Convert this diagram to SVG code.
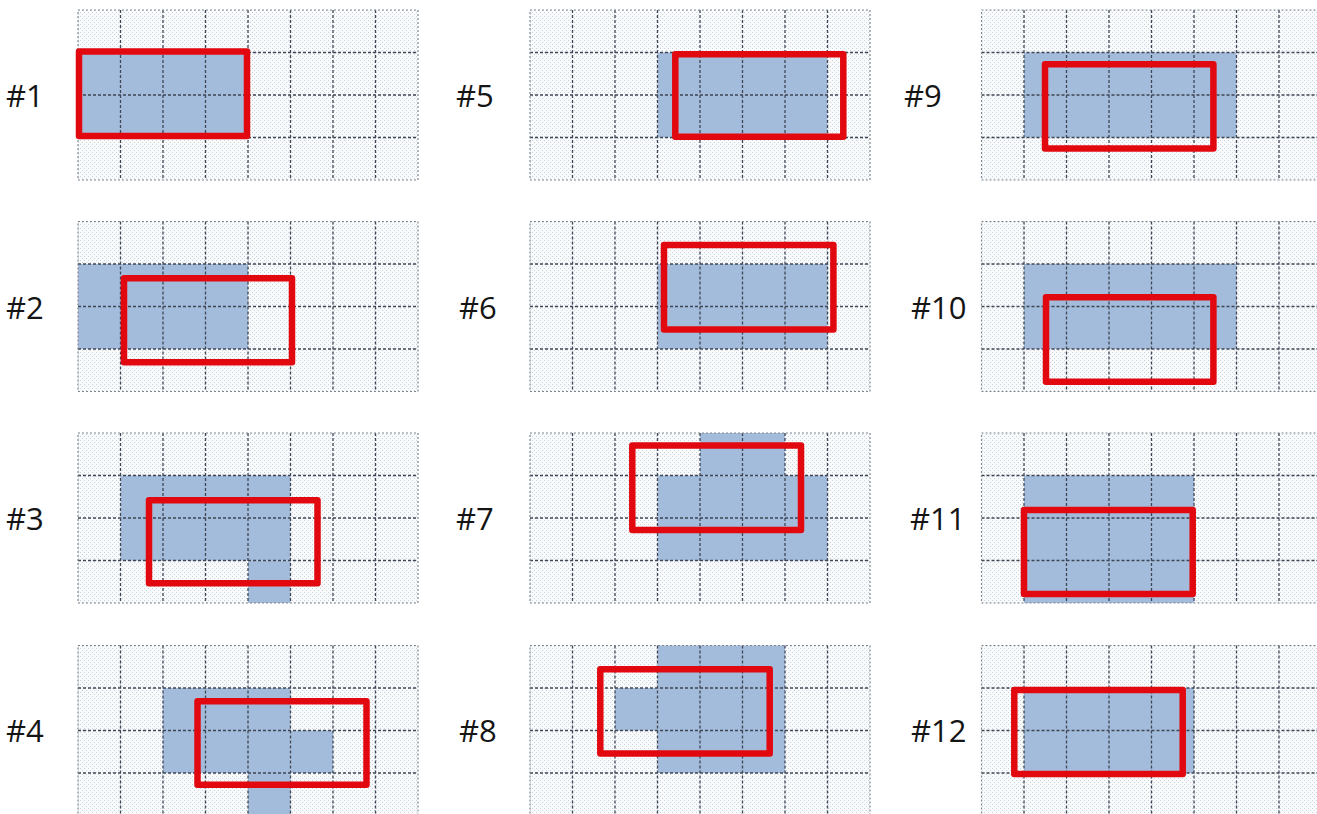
<svg xmlns="http://www.w3.org/2000/svg" xmlns:xlink="http://www.w3.org/1999/xlink" width="1317" height="814" viewBox="0 0 1317 814">
<style>
.lbl{font-family:"Open Sans","Liberation Sans",sans-serif;font-size:31px;fill:#151515}
.bg{fill:url(#dots)}
.blue{fill:#a4bcdb}
.gl{stroke:#3e4654;stroke-width:1.3;stroke-dasharray:3 2;fill:none}
.gb{stroke:#7f8690;stroke-width:1.2;stroke-dasharray:2 2;fill:none}
.red{fill:none;stroke:#e2080f;stroke-width:6.5;stroke-linejoin:round}
</style>
<defs>
<pattern id="dots" width="4" height="4" patternUnits="userSpaceOnUse">
<rect width="4" height="4" fill="#f8fafc"/>
<rect x="0" y="0" width="1" height="1" fill="#c9d3de"/>
<rect x="2" y="2" width="1" height="1" fill="#c9d3de"/>
</pattern>
<g id="grid">
<path class="gl" d="M42.5 0V170M85 0V170M127.5 0V170M170 0V170M212.5 0V170M255 0V170M297.5 0V170M0 42.5H340M0 85H340M0 127.5H340"/>
<rect class="gb" x="0" y="0" width="340" height="170"/>
</g>
</defs>
<rect width="1317" height="814" fill="#ffffff"/>

<g id="panel-1">
<rect class="bg" x="78" y="10" width="340" height="170"/>
<rect class="blue" x="78" y="52.5" width="170" height="85"/>
<use xlink:href="#grid" href="#grid" x="78" y="10"/>
<rect class="red" x="79" y="51.5" width="168" height="84.5"/>
<text class="lbl" x="6" y="107">#1</text>
</g>

<g id="panel-2">
<rect class="bg" x="78" y="221.5" width="340" height="170"/>
<rect class="blue" x="78" y="264" width="170" height="85"/>
<use xlink:href="#grid" href="#grid" x="78" y="221.5"/>
<rect class="red" x="124" y="278.3" width="168" height="84"/>
<text class="lbl" x="6" y="319">#2</text>
</g>

<g id="panel-3">
<rect class="bg" x="78" y="433" width="340" height="170"/>
<rect class="blue" x="120.5" y="475.5" width="170" height="85"/>
<rect class="blue" x="248" y="560.5" width="42.5" height="42.5"/>
<use xlink:href="#grid" href="#grid" x="78" y="433"/>
<rect class="red" x="149" y="500.3" width="168.5" height="83"/>
<text class="lbl" x="6" y="530">#3</text>
</g>

<g id="panel-4">
<rect class="bg" x="78" y="645.5" width="340" height="170"/>
<rect class="blue" x="163" y="688" width="127.5" height="85"/>
<rect class="blue" x="290.5" y="730.5" width="42.5" height="42.5"/>
<rect class="blue" x="248" y="773" width="42.5" height="42.5"/>
<use xlink:href="#grid" href="#grid" x="78" y="645.5"/>
<rect class="red" x="197.5" y="701.3" width="169" height="83.4"/>
<text class="lbl" x="6" y="742">#4</text>
</g>

<g id="panel-5">
<rect class="bg" x="530" y="10" width="340" height="170"/>
<rect class="blue" x="657.5" y="52.5" width="170" height="85"/>
<use xlink:href="#grid" href="#grid" x="530" y="10"/>
<rect class="red" x="675.3" y="54.3" width="168" height="82.5"/>
<text class="lbl" x="456" y="107">#5</text>
</g>

<g id="panel-6">
<rect class="bg" x="530" y="221.5" width="340" height="170"/>
<rect class="blue" x="657.5" y="264" width="170" height="85"/>
<use xlink:href="#grid" href="#grid" x="530" y="221.5"/>
<rect class="red" x="664" y="245" width="169.4" height="84.4"/>
<text class="lbl" x="459" y="319">#6</text>
</g>

<g id="panel-7">
<rect class="bg" x="530" y="433" width="340" height="170"/>
<rect class="blue" x="700" y="433" width="85" height="42.5"/>
<rect class="blue" x="657.5" y="475.5" width="170" height="85"/>
<use xlink:href="#grid" href="#grid" x="530" y="433"/>
<rect class="red" x="632.3" y="445.6" width="168.7" height="84.4"/>
<text class="lbl" x="456" y="530">#7</text>
</g>

<g id="panel-8">
<rect class="bg" x="530" y="645.5" width="340" height="170"/>
<rect class="blue" x="657.5" y="645.5" width="127.5" height="127.5"/>
<rect class="blue" x="615" y="688" width="42.5" height="42.5"/>
<use xlink:href="#grid" href="#grid" x="530" y="645.5"/>
<rect class="red" x="600.3" y="669.3" width="169.4" height="84.1"/>
<text class="lbl" x="459" y="742">#8</text>
</g>

<g id="panel-9">
<rect class="bg" x="981.5" y="10" width="340" height="170"/>
<rect class="blue" x="1024" y="52.5" width="212.5" height="85"/>
<use xlink:href="#grid" href="#grid" x="981.5" y="10"/>
<rect class="red" x="1045" y="64.3" width="168.4" height="84.1"/>
<text class="lbl" x="904" y="107">#9</text>
</g>

<g id="panel-10">
<rect class="bg" x="981.5" y="221.5" width="340" height="170"/>
<rect class="blue" x="1024" y="264" width="212.5" height="85"/>
<use xlink:href="#grid" href="#grid" x="981.5" y="221.5"/>
<rect class="red" x="1046" y="297.3" width="167.4" height="84.4"/>
<text class="lbl" x="911" y="319">#10</text>
</g>

<g id="panel-11">
<rect class="bg" x="981.5" y="433" width="340" height="170"/>
<rect class="blue" x="1024" y="475.5" width="170" height="127.5"/>
<use xlink:href="#grid" href="#grid" x="981.5" y="433"/>
<rect class="red" x="1024" y="510" width="168.7" height="84"/>
<text class="lbl" x="910" y="530">#11</text>
</g>

<g id="panel-12">
<rect class="bg" x="981.5" y="645.5" width="340" height="170"/>
<rect class="blue" x="1024" y="688" width="170" height="85"/>
<use xlink:href="#grid" href="#grid" x="981.5" y="645.5"/>
<rect class="red" x="1014.3" y="690" width="168.4" height="84"/>
<text class="lbl" x="911" y="742">#12</text>
</g>

<g id="connectors"></g>
</svg>
